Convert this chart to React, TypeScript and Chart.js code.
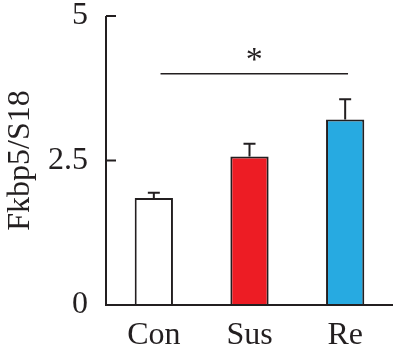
import React, { useEffect, useRef } from "react";
import { Chart, registerables } from "chart.js";

Chart.register(...registerables);

const categories = ["Con", "Sus", "Re"];
const means = [1.85, 2.57, 3.21];
const sems = [0.09, 0.22, 0.35];
const yTicks = [0, 2.5, 5];
const sigFrom = 0;
const sigTo = 2;
const sigLevel = 4.0;
const sigLabel = "*";

const INK = "#231f20";
const FONT = "'Liberation Serif', 'Times New Roman', serif";

const decorPlugin = {
  id: "decor",
  afterDatasetsDraw(chart: any) {
    const { ctx, chartArea } = chart;
    const x = chart.scales.x;
    const y = chart.scales.y;
    const meta = chart.getDatasetMeta(0);
    ctx.save();
    ctx.strokeStyle = INK;
    ctx.lineCap = "butt";
    ctx.lineWidth = 2;
    meta.data.forEach((bar: any, i: number) => {
      const top = y.getPixelForValue(means[i]);
      const errTop = y.getPixelForValue(means[i] + sems[i]);
      ctx.beginPath();
      ctx.moveTo(bar.x, top);
      ctx.lineTo(bar.x, errTop);
      ctx.moveTo(bar.x - 6, errTop);
      ctx.lineTo(bar.x + 6, errTop);
      ctx.stroke();
    });
    ctx.lineWidth = 2;
    ctx.beginPath();
    ctx.moveTo(chartArea.left, y.getPixelForValue(5));
    ctx.lineTo(chartArea.left, y.getPixelForValue(0));
    ctx.lineTo(chartArea.right, y.getPixelForValue(0));
    ctx.stroke();
    y.ticks.forEach((t: any) => {
      const py = y.getPixelForValue(t.value);
      ctx.beginPath();
      ctx.moveTo(chartArea.left, py);
      ctx.lineTo(chartArea.left + 10, py);
      ctx.stroke();
    });
    const sy = y.getPixelForValue(sigLevel);
    ctx.lineWidth = 1.6;
    ctx.beginPath();
    ctx.moveTo(x.getPixelForValue(sigFrom + 0.07), sy);
    ctx.lineTo(x.getPixelForValue(sigTo + 0.03), sy);
    ctx.stroke();
    ctx.fillStyle = INK;
    ctx.font = `34px ${FONT}`;
    ctx.textAlign = "center";
    ctx.textBaseline = "alphabetic";
    const m = ctx.measureText(sigLabel);
    // glyph bottom (baseline + descent) sits 13px above the line
    ctx.fillText(
      sigLabel,
      x.getPixelForValue((sigFrom + sigTo) / 2 + 0.05),
      sy - 13 - m.actualBoundingBoxDescent
    );
    ctx.restore();
  },
};

export default function App() {
  const ref = useRef<HTMLCanvasElement>(null);
  useEffect(() => {
    document.body.style.margin = "0";
    const chart = new Chart(ref.current!, {
      type: "bar",
      data: {
        labels: categories,
        datasets: [
          {
            data: means,
            backgroundColor: ["#ffffff", "#ed1c24", "#27aae1"],
            borderColor: INK,
            borderWidth: 2,
            barPercentage: 0.4,
            categoryPercentage: 1,
          },
        ],
      },
      options: {
        animation: false,
        responsive: false,
        maintainAspectRatio: false,
        layout: { padding: { top: 16, right: 0, left: 0, bottom: 0 } },
        plugins: { legend: { display: false }, tooltip: { enabled: false } },
        scales: {
          x: {
            grid: { display: false, drawTicks: false },
            border: { display: false },
            ticks: {
              color: INK,
              font: { family: FONT, size: 32, lineHeight: 1 },
              padding: 15,
            },
            afterFit: (s: any) => {
              s.height = 50;
              s.paddingLeft = 0;
              s.paddingRight = 0;
            },
          },
          y: {
            min: 0,
            max: 5,
            afterBuildTicks: (s: any) => {
              s.ticks = yTicks.map((v) => ({ value: v }));
            },
            grid: { display: false, drawTicks: false },
            border: { display: false },
            ticks: {
              color: INK,
              font: { family: FONT, size: 32, lineHeight: 1 },
              padding: 18,
              callback: (v: any) => String(v),
            },
            title: {
              display: true,
              text: "Fkbp5/S18",
              color: INK,
              font: { family: FONT, size: 32, lineHeight: 1.2 },
              padding: { top: 1, bottom: 0 },
            },
            afterFit: (s: any) => {
              s.width = 106;
              s.paddingTop = 0;
              s.paddingBottom = 0;
            },
          },
        },
      },
      plugins: [decorPlugin],
    });
    return () => chart.destroy();
  }, []);
  return (
    <div style={{ width: 393, height: 355, background: "#fff" }}>
      <canvas ref={ref} width={393} height={355} />
    </div>
  );
}
